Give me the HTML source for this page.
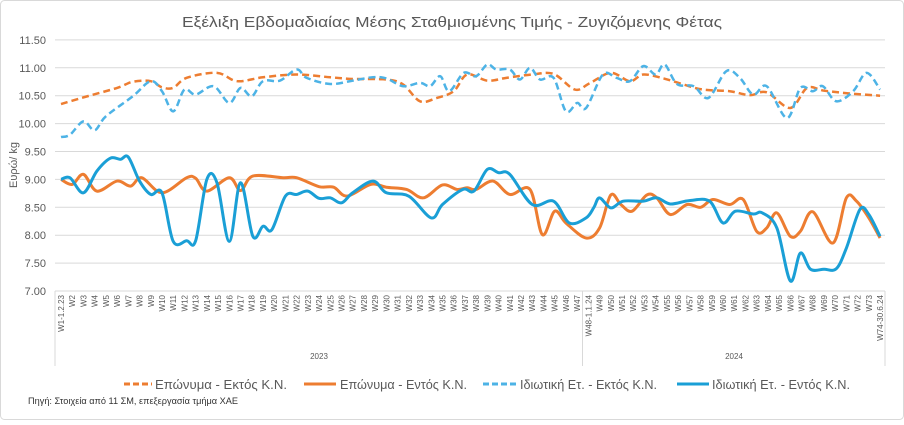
<!DOCTYPE html>
<html><head><meta charset="utf-8"><style>
body{margin:0;background:#fff}
svg text{font-family:"Liberation Sans",sans-serif}
</style></head><body>
<svg id="s" width="904" height="420" viewBox="0 0 904 420" xmlns="http://www.w3.org/2000/svg">
<rect x="0.5" y="0.5" width="903" height="419" rx="4" fill="#fff" stroke="#d9d9d9"/>
<text x="452" y="27" text-anchor="middle" font-size="15" fill="#595959" textLength="540" lengthAdjust="spacingAndGlyphs">Εξέλιξη Εβδομαδιαίας Μέσης Σταθμισμένης Τιμής - Ζυγιζόμενης Φέτας</text>
<g id="grid"></g>
<text transform="translate(17,165) rotate(-90)" text-anchor="middle" font-size="11" fill="#595959">Ευρώ/ kg</text>
<g id="xl"></g>
<g id="ser"></g>
<g font-size="13" fill="#595959">
<line x1="124" y1="384" x2="152" y2="384" stroke="#ed7d31" stroke-width="3" stroke-dasharray="6,3"/>
<text x="155" y="389" textLength="132" lengthAdjust="spacingAndGlyphs">Επώνυμα - Εκτός Κ.Ν.</text>
<line x1="304" y1="384" x2="336" y2="384" stroke="#ed7d31" stroke-width="3"/>
<text x="340" y="389" textLength="127" lengthAdjust="spacingAndGlyphs">Επώνυμα - Εντός Κ.Ν.</text>
<line x1="483" y1="384" x2="516" y2="384" stroke="#4db3e6" stroke-width="3" stroke-dasharray="6,3"/>
<text x="520" y="389" textLength="137" lengthAdjust="spacingAndGlyphs">Ιδιωτική Ετ. - Εκτός Κ.Ν.</text>
<line x1="677" y1="384" x2="709" y2="384" stroke="#1a9fd6" stroke-width="3"/>
<text x="712" y="389" textLength="138" lengthAdjust="spacingAndGlyphs">Ιδιωτική Ετ. - Εντός Κ.Ν.</text>
</g>
<text x="28" y="404" font-size="9" fill="#333" textLength="210" lengthAdjust="spacingAndGlyphs">Πηγή: Στοιχεία από 11 ΣΜ, επεξεργασία τμήμα ΧΑΕ</text>
</svg>
<script>
var NS="http://www.w3.org/2000/svg";
function el(p,t,a,txt){var e=document.createElementNS(NS,t);for(var k in a)e.setAttribute(k,a[k]);if(txt)e.textContent=txt;p.appendChild(e);return e;}
function Y(v){return 291-(v-7)*55.8;}
function X(i){return 61+i*11.22;}
var g=document.getElementById('grid');
for(var k=0;k<=9;k++){var v=7+k*0.5,y=Y(v);
 el(g,'line',{x1:55,x2:885,y1:y,y2:y,stroke:'#d9d9d9','stroke-width':1});
 el(g,'text',{x:46,y:y+4,'text-anchor':'end','font-size':11,fill:'#595959'},v.toFixed(2));}
var xl=document.getElementById('xl');
[55,582.5,885].forEach(function(x){el(xl,'line',{x1:x,x2:x,y1:291,y2:366,stroke:'#d9d9d9'});});
for(var i=0;i<74;i++){var n=i+1,lab='W'+n;if(n==1)lab='W1-1.2.23';if(n==48)lab='W48-1.1.24';if(n==74)lab='W74-30.6.24';
 el(xl,'text',{transform:'translate('+(X(i)+3)+',295) rotate(-90)','text-anchor':'end','font-size':8,fill:'#595959'},lab);}
el(xl,'text',{x:319,y:359,'text-anchor':'middle','font-size':8,fill:'#595959'},'2023');
el(xl,'text',{x:734,y:359,'text-anchor':'middle','font-size':8,fill:'#595959'},'2024');
var S=[
 {c:'#ed7d31',d:true,p:[[0,10.35],[2,10.47],[5,10.64],[6.4,10.75],[8,10.76],[9,10.65],[10,10.64],[11.2,10.82],[13.9,10.91],[15.7,10.76],[18,10.83],[21,10.88],[24,10.83],[26,10.8],[29,10.79],[30.5,10.7],[32,10.4],[33.5,10.46],[35,10.58],[36.2,10.88],[38,10.77],[39.7,10.82],[42,10.88],[43.9,10.89],[45.8,10.61],[47.1,10.72],[49,10.91],[50.7,10.76],[51.9,10.88],[53.7,10.81],[55.5,10.7],[57.2,10.61],[59.6,10.58],[61.4,10.51],[62.9,10.56],[65,10.28],[66.5,10.64],[68,10.59],[70.3,10.54],[73,10.5]]},
 {c:'#4db3e6',d:true,p:[[0,9.76],[0.8,9.8],[2,10.04],[3,9.88],[4,10.13],[6.4,10.49],[8,10.76],[9,10.58],[10,10.22],[11,10.61],[12,10.52],[13.6,10.67],[15,10.37],[16,10.64],[17,10.49],[18,10.76],[19.5,10.77],[21,10.97],[21.9,10.82],[24,10.71],[26,10.77],[27.8,10.83],[29,10.81],[30.5,10.67],[32,10.73],[32.9,10.67],[33.8,10.85],[34.6,10.58],[35.9,10.91],[37,10.85],[38,11.06],[38.8,10.97],[40,10.97],[40.9,10.79],[41.8,11.0],[42.7,10.79],[43.9,10.82],[45,10.22],[46,10.37],[46.8,10.28],[48.3,10.88],[49.5,10.82],[50.7,10.76],[51.9,11.03],[53,10.88],[53.8,11.06],[54.9,10.71],[56.4,10.67],[57.7,10.46],[59.3,10.94],[60.5,10.82],[61.7,10.52],[62.9,10.67],[64.7,10.1],[65.9,10.64],[67,10.58],[67.9,10.67],[69.1,10.4],[70.6,10.58],[71.8,10.91],[73,10.61]]},
 {c:'#ed7d31',d:false,p:[[0,9.0],[1,8.91],[2,9.09],[3.2,8.79],[5,8.97],[6.2,8.88],[7.2,9.03],[9,8.76],[11.2,9.03],[12,9.02],[13,8.79],[15,9.03],[16,8.8],[17.1,9.06],[19.8,9.03],[21,9.03],[23,8.87],[24.3,8.86],[25.5,8.7],[27.6,8.91],[29,8.86],[30.8,8.82],[32.3,8.67],[34,8.9],[35.3,8.82],[36.2,8.85],[37,8.82],[38.5,8.97],[40,8.73],[41.8,8.82],[42.9,8.01],[44,8.43],[45,8.22],[46.8,7.95],[48,8.13],[49,8.72],[49.9,8.55],[50.9,8.43],[52.2,8.72],[53.1,8.67],[54.3,8.37],[55.8,8.55],[57,8.5],[58.1,8.64],[59.6,8.55],[60.8,8.64],[62,8.07],[62.9,8.13],[63.8,8.4],[65,7.98],[65.9,8.07],[67,8.42],[68.8,7.86],[70,8.67],[70.9,8.61],[72,8.31],[73,7.95]]},
 {c:'#1a9fd6',d:false,p:[[0,9.0],[0.8,9.03],[2,8.76],[3.2,9.15],[4.4,9.38],[5.3,9.36],[6,9.4],[7,8.97],[8,8.73],[9,8.76],[10,7.89],[11.2,7.9],[12,7.9],[13,9.0],[13.9,8.94],[15,7.89],[16,8.94],[17.1,7.98],[18,8.16],[18.8,8.1],[20,8.7],[21,8.73],[22,8.79],[23,8.66],[24,8.67],[25,8.58],[26,8.76],[27.8,8.97],[29,8.76],[31,8.7],[33,8.31],[34,8.55],[35.8,8.82],[36.8,8.79],[38,9.18],[39,9.12],[40,9.09],[42,8.55],[43.9,8.61],[45.3,8.22],[46.8,8.31],[47.5,8.5],[48,8.67],[49,8.49],[50.1,8.61],[51.9,8.61],[53.1,8.67],[54.3,8.56],[56,8.62],[57.8,8.61],[59,8.22],[60.1,8.43],[61.7,8.38],[62.5,8.4],[63.8,8.13],[65,7.18],[65.9,7.68],[66.8,7.39],[68,7.39],[69.1,7.4],[70,7.77],[71.2,8.46],[72,8.37],[73,7.98]]}
];
var sg=document.getElementById('ser');
S.forEach(function(s){var P=s.p.map(function(q){return [X(q[0]),Y(q[1])];});
 var d='M'+P[0][0]+','+P[0][1];
 for(var i=0;i<P.length-1;i++){var p0=P[i-1]||P[i],p1=P[i],p2=P[i+1],p3=P[i+2]||p2;
  var c1=[p1[0]+(p2[0]-p0[0])/6,p1[1]+(p2[1]-p0[1])/6],c2=[p2[0]-(p3[0]-p1[0])/6,p2[1]-(p3[1]-p1[1])/6];
  d+=' C'+c1+' '+c2+' '+p2;}
 var a={d:d,fill:'none',stroke:s.c,'stroke-width':s.d?2.5:3,'stroke-linejoin':'round'};
 if(s.d)a['stroke-dasharray']='7,4';
 el(sg,'path',a);});
</script>
</body></html>
